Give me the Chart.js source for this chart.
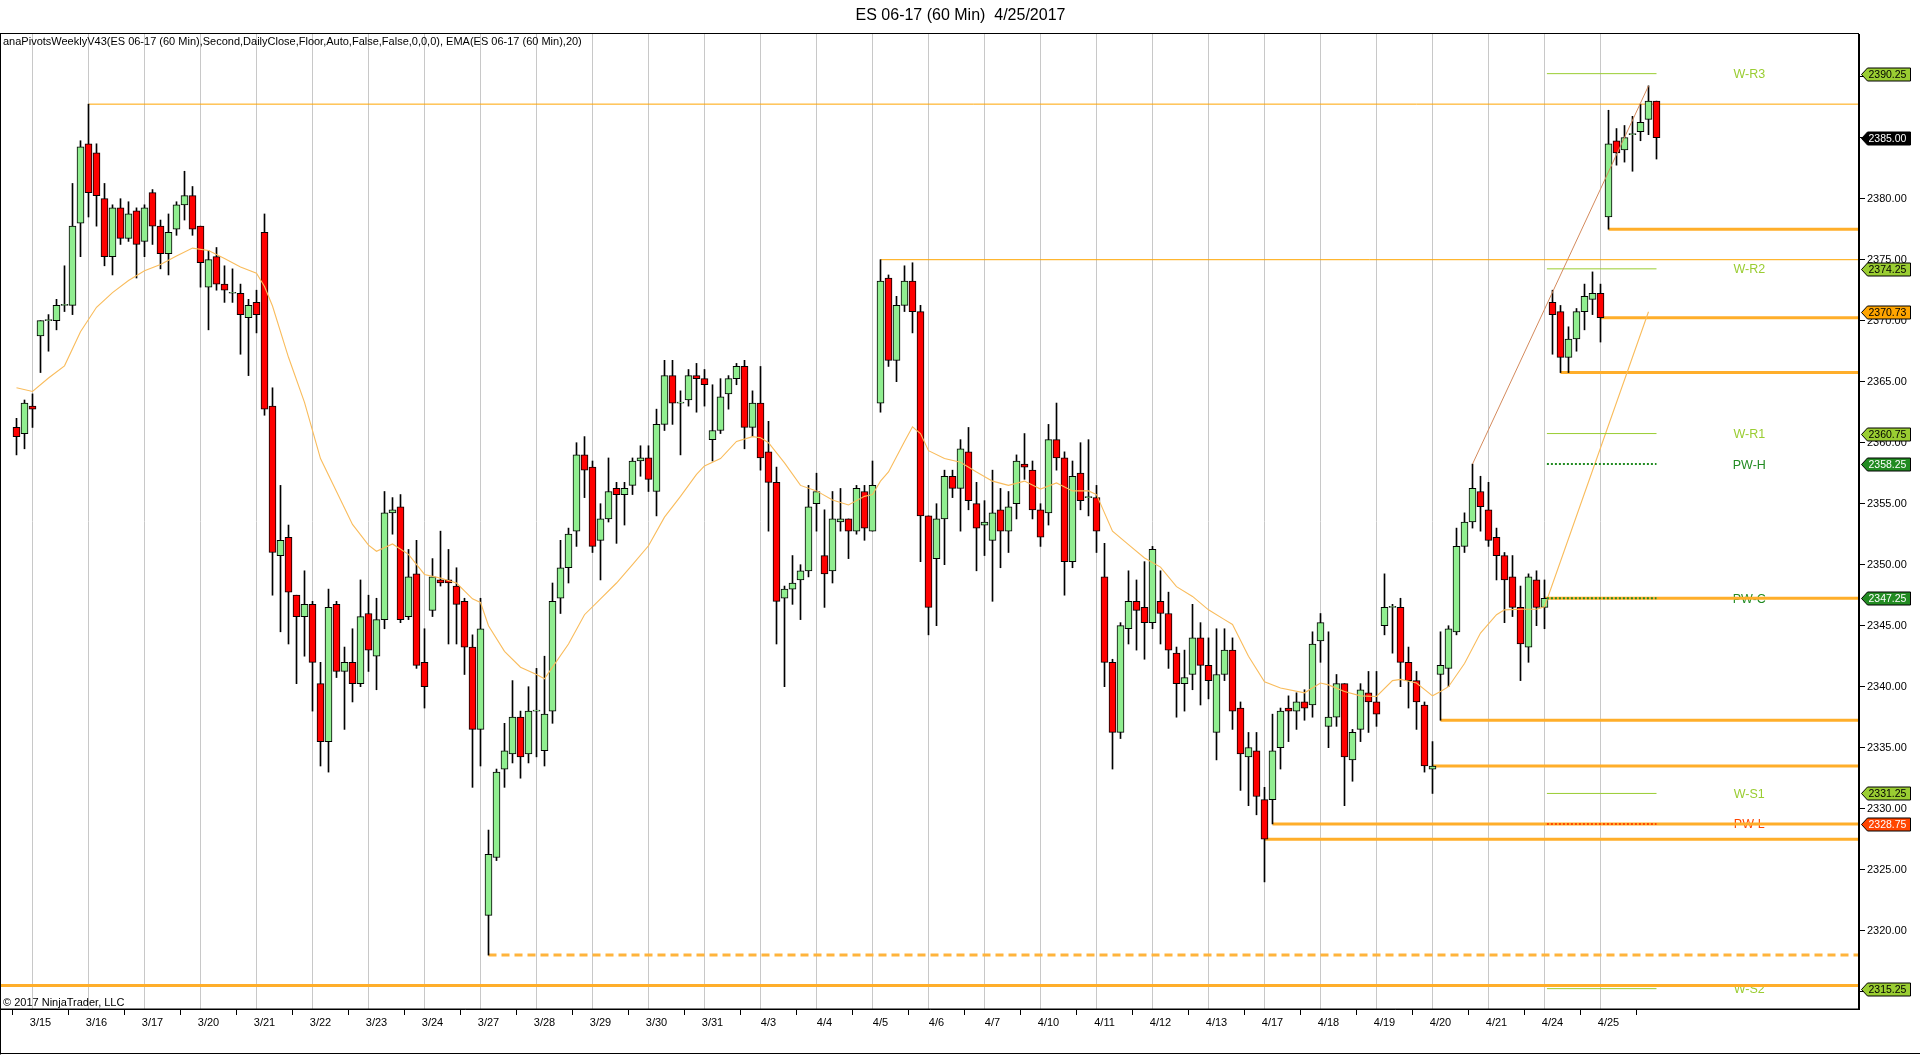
<!DOCTYPE html>
<html>
<head>
<meta charset="utf-8">
<script src="https://cdn.jsdelivr.net/npm/chart.js@4.4.1/dist/chart.umd.min.js"></script>
<style>
  html, body { margin: 0; padding: 0; background: #fff; overflow: hidden; }
  canvas { display: block; }
</style>
</head>
<body>
<canvas id="myChart" width="1920" height="1055"></canvas>
<script>
// session labels, one per trading day (first bar of the day = 3 + 7*d)
const dayLabels = ['3/15','3/16','3/17','3/20','3/21','3/22','3/23','3/24','3/27','3/28','3/29','3/30','3/31',
  '4/3','4/4','4/5','4/6','4/7','4/10','4/11','4/12','4/13','4/17','4/18','4/19','4/20','4/21','4/24','4/25'];

const yTicks = [2315, 2320, 2325, 2330, 2335, 2340, 2345, 2350, 2355, 2360, 2365, 2370, 2375, 2380, 2385, 2390];

// 60 min bars
const opens = [
  2361.25,2360.75,2363,2368.75,2370,2370,2371.25,2371.25,2378,2384.5,
  2383.75,2380,2375.25,2379.25,2376.75,2379,2376.5,2380.5,2377.75,2375.5,
  2377.5,2379.5,2380.25,2377.75,2372.75,2375.25,2373,2372.25,2372.25,2370.25,
  2371.5,2377.25,2363,2350.75,2352.25,2347.5,2345.75,2346.75,2340.25,2335.5,
  2346.75,2341.25,2342,2340.25,2346,2342.5,2345.5,2354.25,2354.75,2345.75,
  2349.25,2342,2346.25,2348.75,2348.75,2348.25,2347,2343.25,2336.5,2321.25,
  2326,2333.25,2334.5,2337.5,2334.5,2338,2334.75,2338,2347.25,2349.75,
  2352.75,2359,2358,2352,2353.75,2356.25,2355.75,2356.5,2358.5,2358.75,
  2356,2361.5,2365.5,2363.25,2363.5,2365.5,2365.25,2360.25,2361,2364,
  2365.25,2366.25,2361.25,2363.25,2359.25,2356.75,2347.25,2348,2348.75,2349.5,
  2355,2350.75,2349.5,2353.5,2353.75,2352.75,2356,2352.75,2363.25,2373.5,
  2366.75,2371.25,2373.25,2370.75,2354,2350.5,2353.75,2357.25,2356.25,2359.25,
  2355,2353.25,2352,2354.5,2352.75,2355,2358.25,2357.75,2354.5,2354.25,
  2360.25,2358.75,2350.25,2357.5,2355.5,2355.5,2349,2342,2336.25,2344.75,
  2347,2346.5,2345.25,2347,2346,2342.75,2340.25,2341,2344,2341.75,
  2336.25,2341,2343,2338.25,2334.25,2334.75,2330.75,2330.75,2335,2338.25,
  2338,2338.75,2338.5,2343.75,2336.75,2337.5,2340.25,2334,2336.5,2339.5,
  2338.75,2345,2346.5,2346.5,2342,2340.5,2338.5,2333.25,2341,2341.5,
  2344.5,2351.5,2353.5,2356,2354.5,2352.25,2350.75,2349,2346.5,2343.25,
  2348.75,2346.5,2371.5,2370.75,2367,2368.5,2370.75,2371.75,2372.25,2378.5,
  2384.75,2384,2385.25,2385.5,2386.5,2388
];
const highs = [
  2362,2363.5,2364,2370,2370.5,2371.75,2374.5,2381.25,2384.75,2387.75,
  2384.5,2381.25,2379.5,2380,2379.75,2379.25,2379.5,2380.75,2378.25,2378.75,
  2379.75,2382.25,2381,2377.75,2375.75,2376,2374.5,2374.25,2373,2371.75,
  2372.5,2378.75,2364.5,2356.5,2353.25,2347.5,2349.5,2347,2342,2348,
  2347,2343.25,2344.75,2348.75,2347.5,2347.25,2356,2355.5,2355.75,2351.25,
  2352,2344.75,2350.5,2352.75,2351.25,2349.75,2347.25,2344.25,2347.25,2328.25,
  2333.25,2337,2340.5,2338,2340,2341.5,2342.5,2348.5,2352,2353,
  2360,2360.5,2358.5,2355,2358.75,2356.75,2356.75,2358.75,2359.75,2359.75,
  2362.75,2366.75,2366.75,2364.25,2366,2366.5,2366,2364.75,2365.25,2365.5,
  2366.5,2366.75,2364.25,2366.25,2361.75,2358,2348.25,2350.75,2350,2356.5,
  2357.5,2354.5,2356,2356.25,2353.75,2356.5,2356.5,2358.5,2375,2373.75,
  2372,2374.5,2374.75,2371.25,2354,2355,2357.75,2357.75,2360.25,2361.25,
  2356.75,2355.25,2357.75,2356.25,2356,2359,2360.75,2358.5,2355,2361.5,
  2363.25,2359.25,2358.5,2360,2360.25,2356.5,2351.75,2342.25,2345.25,2349.5,
  2348.75,2350.25,2351.5,2349.5,2347.75,2343.25,2343,2346.75,2345.25,2344,
  2344.75,2344.75,2344,2338.75,2336.25,2336.25,2331.75,2337.75,2338.25,2339.25,
  2339.5,2339.75,2344.5,2346,2344.5,2341,2340.25,2336.5,2340.25,2341.25,
  2341.25,2349.25,2346.75,2347.25,2343.25,2341.25,2338.75,2335.5,2344.5,2345,
  2353,2354.25,2358.25,2357.25,2356.75,2353,2351,2350.75,2348.25,2349.25,
  2349.5,2348.75,2372.5,2371.25,2369.5,2371,2373,2374,2373,2387.25,
  2385.75,2386,2386.75,2387.75,2389.25,2388
];
const lows = [
  2359,2359.5,2361.25,2365.75,2367.5,2369.25,2370.75,2370.5,2375.25,2378.5,
  2377.75,2374.5,2373.75,2376.25,2376.5,2373.5,2375.25,2376.25,2374.25,2373.75,
  2377,2378.25,2377,2372.75,2369.25,2372.5,2371.5,2371.5,2367.25,2365.5,
  2369,2362.25,2347.5,2344.5,2343.5,2340.25,2342.5,2338,2333.5,2333,
  2340.75,2336.5,2338.75,2340,2341.25,2339.75,2344.75,2352.5,2345.25,2345.5,
  2341.5,2338.25,2345.75,2348.25,2343.5,2343.5,2341,2331.75,2333.5,2318,
  2325.75,2331.75,2333.75,2332.5,2333.75,2334.25,2333.5,2337,2346,2348.5,
  2351.5,2355.5,2351,2348.75,2353.5,2351.75,2353.25,2355.75,2357.25,2356,
  2354,2361,2361.5,2359,2363,2362.5,2363,2358.5,2360.75,2362.75,
  2364.75,2359.5,2360.5,2357.75,2352.75,2343.5,2340,2346.75,2345.5,2349,
  2352.75,2346.5,2348.5,2352.75,2350.5,2352.5,2352,2352.75,2362.5,2366.25,
  2365,2370.75,2369,2350.25,2344.25,2345,2350,2355.5,2352.75,2354.5,
  2349.5,2350.75,2347,2349.75,2351,2353.75,2357,2353.75,2351.5,2353.25,
  2357.75,2347.5,2349.75,2354.5,2354,2351,2340,2333.25,2335.75,2343.5,
  2343,2342.25,2344.75,2343.5,2341.5,2337.5,2338,2339.75,2338.5,2339,
  2334,2340.5,2336.5,2331.5,2330.25,2329.5,2324,2328.75,2333.25,2335.5,
  2336.5,2337.25,2337.5,2342,2335,2336.75,2330.25,2332.25,2335.5,2336.25,
  2336.75,2344.25,2342.75,2340,2338.25,2336.5,2333,2331.25,2337.25,2340,
  2344.25,2351,2353,2352.75,2351.5,2348.75,2345.25,2345.75,2340.5,2342,
  2345,2344.75,2367.25,2365.75,2365.75,2367.5,2369.25,2370.5,2368.25,2377.5,
  2382.75,2383,2382.25,2384.75,2385.25,2383.25
];
const closes = [
  2360.5,2363.25,2362.75,2370,2370,2371.25,2371.25,2377.75,2384.25,2380.5,
  2380.25,2375.25,2379.25,2376.75,2378.75,2376.25,2379.25,2377.75,2375.5,2377.25,
  2379.5,2380.25,2377.5,2374.75,2375,2373,2372.5,2372.25,2370.5,2371.25,
  2370.5,2362.75,2351,2352,2347.75,2345.75,2346.75,2342,2335.5,2346.5,
  2341.25,2342,2340.25,2345.75,2343,2345.5,2354.25,2354.5,2345.5,2349,
  2341.75,2340,2349,2348.5,2348.5,2346.75,2343.25,2336.5,2344.75,2326.25,
  2333,2334.75,2337.5,2334.25,2338,2338,2337.75,2347,2349.75,2352.5,
  2359,2357.75,2351.5,2353.75,2356,2355.75,2356.25,2358.5,2358.75,2357,
  2361.5,2365.5,2363.25,2363.25,2365.5,2365.25,2364.75,2361,2363.75,2365.25,
  2366.25,2361.25,2363.25,2358.75,2356.75,2347,2348,2348.5,2349.5,2354.75,
  2356,2349.25,2353.75,2353.75,2352.75,2356.25,2353,2356.5,2373.25,2366.75,
  2371.25,2373.25,2370.75,2354,2346.5,2353.75,2357.25,2356.25,2359.5,2355.25,
  2353,2353.5,2354.25,2352.75,2354.75,2358.5,2358,2354.5,2352.25,2360.25,
  2358.75,2350.25,2357.25,2355.25,2355.5,2352.75,2342,2336.25,2345,2347,
  2346.25,2345.25,2351.25,2346,2343,2340.25,2340.75,2344,2341.75,2340.5,
  2341,2343,2338,2334.5,2335,2331,2327.5,2334.75,2338,2338,
  2338.75,2338.25,2343.5,2345.25,2337.5,2340.25,2334.25,2336.25,2339.75,2338.75,
  2337.75,2346.5,2346.5,2342,2340.5,2338.75,2333.5,2333.5,2341.75,2344.75,
  2351.5,2353.5,2356.25,2354.75,2352,2350.75,2348.75,2346.5,2343.5,2349,
  2346.5,2347.25,2370.5,2367,2368.5,2370.75,2372,2372.25,2370.25,2384.5,
  2383.75,2385,2385.25,2386.25,2388,2385
];

// EMA(20) as drawn in the picture (bar index / value)
const emaBars = [0,2,4,6,8,10,12,14,16,18,20,22,24,26,28,30,31,32,34,36,38,40,42,44,45,47,49,
  51,53,55,57,58,59,61,63,65,66,67,69,71,73,75,77,79,81,83,85,86,88,90,92,93,94,96,98,100,
  102,104,106,107,108,109,111,112,113,114,116,118,120,122,124,126,128,130,132,134,135,137,139,
  141,143,145,147,149,151,152,154,156,158,161,163,164,166,168,170,172,173,175,177,178,179,181,
  183,185,186,188,190,191,204];
const emaValues = [2364.5,2364.2,2365.3,2366.3,2369.1,2371.1,2372.3,2373.3,2374.1,2374.6,2375.3,2375.95,
  2375.75,2375.1,2374.4,2373.9,2372.8,2371.2,2367,2363.3,2358.7,2356,2353.3,2351.6,2351.1,2351.7,2350.85,
  2349.2,2348.9,2348.5,2347.2,2346.9,2345,2342.9,2341.6,2341,2340.65,2341.6,2343.5,2345.9,2347.2,2348.5,
  2350,2351.55,2353.9,2355.6,2357.4,2358.1,2358.7,2360.1,2360.5,2360.4,2360,2358.35,2356.5,2356.05,
  2355.3,2354.9,2355.6,2355.75,2356.85,2357.6,2360.1,2361.3,2360.75,2359.35,2358.7,2358.4,2357.6,2356.85,
  2356.5,2356.85,2356.2,2356.7,2356.05,2356.05,2355.75,2352.75,2351.65,2350.55,2349.8,2348.2,2347.4,
  2346.3,2345.5,2345.1,2342.5,2340.4,2339.9,2339.5,2340.3,2340.15,2339.6,2339.25,2339.2,2340.5,2340.6,
  2340.3,2339.25,2339.6,2340,2341.9,2344.4,2345.9,2346.3,2346.35,2346.35,2346.55,2370.73];

// horizontal levels (price / first bar)
const thickLevels = [2377.5, 2370.25, 2365.75, 2347.25, 2337.25, 2333.5, 2328.75, 2327.5, 2315.5];
const thickStarts = [199, 198, 193, 191, 178, 177, 157, 156, -2];
const thinLevels = [2387.75, 2375];
const thinStarts = [9, 108];
const dashedLevels = [2318];
const dashedStarts = [59];

// weekly pivots
const pivotNames = ['W-R3', 'W-R2', 'W-R1', 'PW-H', 'PW-C', 'W-S1', 'PW-L', 'W-S2'];
const pivotValues = [2390.25, 2374.25, 2360.75, 2358.25, 2347.25, 2331.25, 2328.75, 2315.25];
const pivotRange = [191.3, 205];
const pivotLabelBar = 216.6;

// trend line between two highs
const trendBars = [182, 204];
const trendValues = [2358.25, 2389.25];

// price markers on the right axis
const tagValues = [2390.25, 2385.00, 2374.25, 2370.73, 2360.75, 2358.25, 2347.25, 2331.25, 2328.75, 2315.25];

const X_MIN = -1.9375, X_MAX = 230.3125;
const Y_MIN = 2313.582, Y_MAX = 2393.5;
const FONT = '"Liberation Sans", Arial, sans-serif';

const pivotColor = n => n === 'PW-H' || n === 'PW-C' ? '#228B22' : (n === 'PW-L' ? '#FF4500' : '#9ACD32');
const tagStyle = {
  2390.25: ['#9ACD32', '#000'], 2385: ['#000', '#fff'], 2374.25: ['#9ACD32', '#000'],
  2370.73: ['#FFA500', '#000'], 2360.75: ['#9ACD32', '#000'], 2358.25: ['#228B22', '#fff'],
  2347.25: ['#228B22', '#fff'], 2331.25: ['#9ACD32', '#000'], 2328.75: ['#FF4500', '#fff'],
  2315.25: ['#9ACD32', '#000']
};

const datasets = [];

thickLevels.forEach((v, k) => datasets.push({
  type: 'line', data: [{x: thickStarts[k], y: v}, {x: X_MAX, y: v}],
  borderColor: '#FFAE2A', borderWidth: 3, pointRadius: 0, order: 10
}));
thinLevels.forEach((v, k) => datasets.push({
  type: 'line', data: [{x: thinStarts[k], y: v}, {x: X_MAX, y: v}],
  borderColor: '#FFA500', borderWidth: 1, pointRadius: 0, order: 10
}));
dashedLevels.forEach((v, k) => datasets.push({
  type: 'line', data: [{x: dashedStarts[k], y: v}, {x: X_MAX, y: v}],
  borderColor: '#FFB43C', borderWidth: 3, borderDash: [8, 5], pointRadius: 0, order: 10
}));

datasets.push({
  type: 'bar', data: lows.map((l, i) => ({x: i, y: [l, highs[i]]})),
  backgroundColor: '#000', barThickness: 1, grouped: false, order: 8
});
datasets.push({
  type: 'bar', data: opens.map((o, i) => ({x: i, y: [o, closes[i]]})),
  backgroundColor: opens.map((o, i) => closes[i] >= o ? '#90EE90' : '#FF0000'),
  borderColor: '#000', borderWidth: 1, borderSkipped: false,
  barThickness: 7, minBarLength: 1, grouped: false, order: 7
});

datasets.push({
  type: 'line', data: emaBars.map((b, k) => ({x: b, y: emaValues[k]})),
  borderColor: '#F9BC5C', borderWidth: 1.1, pointRadius: 0, tension: 0, order: 5
});

pivotNames.forEach((n, k) => {
  const dotted = n.startsWith('PW');
  datasets.push({
    type: 'line', data: [{x: pivotRange[0], y: pivotValues[k]}, {x: pivotRange[1], y: pivotValues[k]}],
    borderColor: pivotColor(n), borderWidth: dotted ? 2 : 1,
    borderDash: dotted ? [2, 2] : [], pointRadius: 0, order: 4
  });
});

datasets.push({
  type: 'line', data: trendBars.map((b, k) => ({x: b, y: trendValues[k]})),
  borderColor: '#D48A5C', borderWidth: 1, pointRadius: 0, order: 3
});

const textPlugin = {
  id: 'ntText',
  beforeDatasetsDraw(chart) {
    const {ctx, scales: {x, y}} = chart;
    ctx.save();
    ctx.font = '12.5px ' + FONT;
    ctx.textAlign = 'center';
    ctx.textBaseline = 'middle';
    pivotNames.forEach((n, k) => {
      ctx.fillStyle = pivotColor(n);
      ctx.fillText(n, x.getPixelForValue(pivotLabelBar), y.getPixelForValue(pivotValues[k]) + 1);
    });
    ctx.restore();
  },
  afterDraw(chart) {
    const {ctx, chartArea: a, scales: {y}} = chart;
    ctx.save();
    ctx.strokeStyle = '#000';
    ctx.lineWidth = 1;
    ctx.strokeRect(a.left - 0.5, a.top - 0.5, a.right - a.left, a.bottom - a.top + 0.5);
    ctx.beginPath();
    ctx.moveTo(0.5, a.top); ctx.lineTo(0.5, 1054.5);
    ctx.moveTo(0, 1053.5); ctx.lineTo(1920, 1053.5);
    ctx.stroke();

    ctx.fillStyle = '#000';
    ctx.font = '11px ' + FONT;
    ctx.textAlign = 'left';
    ctx.textBaseline = 'middle';
    ctx.fillText('anaPivotsWeeklyV43(ES 06-17 (60 Min),Second,DailyClose,Floor,Auto,False,False,0,0,0), EMA(ES 06-17 (60 Min),20)', 3, 42);
    ctx.fillText('\u00A9 2017 NinjaTrader, LLC', 3, 1003);

    const left = a.right + 2.5;
    ctx.font = '10.5px ' + FONT;
    tagValues.forEach(v => {
      const py = Math.round(y.getPixelForValue(v)) + 0.5;
      const st = tagStyle[v];
      ctx.beginPath();
      ctx.moveTo(left, py);
      ctx.lineTo(left + 6, py - 6.5);
      ctx.lineTo(left + 49, py - 6.5);
      ctx.lineTo(left + 49, py + 6.5);
      ctx.lineTo(left + 6, py + 6.5);
      ctx.closePath();
      ctx.fillStyle = st[0];
      ctx.fill();
      ctx.strokeStyle = '#000';
      ctx.stroke();
      ctx.fillStyle = st[1];
      ctx.fillText(v.toFixed(2), left + 7, py + 0.5);
    });
    ctx.restore();
  }
};

const config = {
  type: 'line',
  data: {datasets: datasets},
  options: {
    responsive: false,
    animation: false,
    devicePixelRatio: 1,
    events: [],
    layout: {padding: {left: 1, top: 0, right: 0, bottom: 0}},
    scales: {
      x: {
        type: 'linear', position: 'bottom', min: X_MIN, max: X_MAX, offset: false,
        afterBuildTicks: s => { s.ticks = dayLabels.map((_, d) => ({value: 3 + 7 * d})); },
        afterFit: s => { s.height = 46; },
        ticks: {
          autoSkip: false, maxRotation: 0, padding: 1, color: '#000',
          font: {size: 11, family: FONT},
          callback: v => dayLabels[(v - 3) / 7]
        },
        grid: {drawOnChartArea: false, drawTicks: true, tickLength: 6, color: '#000'},
        border: {display: true, color: '#000'}
      },
      xg: {
        type: 'linear', position: 'top', min: X_MIN, max: X_MAX, offset: false,
        afterBuildTicks: s => { s.ticks = dayLabels.map((_, d) => ({value: 2 + 7 * d})); },
        afterFit: s => { s.height = 0; },
        ticks: {display: false},
        grid: {drawTicks: false, color: '#C8C8C8', lineWidth: 1},
        border: {display: false}
      },
      y: {
        type: 'linear', position: 'right', min: Y_MIN, max: Y_MAX,
        afterBuildTicks: s => { s.ticks = yTicks.map(v => ({value: v})); },
        afterFit: s => { s.width = 61; },
        ticks: {
          padding: 2, color: '#000', font: {size: 11, family: FONT},
          callback: v => v.toFixed(2)
        },
        grid: {drawOnChartArea: false, drawTicks: true, tickLength: 6, color: '#000'},
        border: {display: true, color: '#000'}
      }
    },
    plugins: {
      legend: {display: false},
      tooltip: {enabled: false},
      title: {
        display: true,
        text: 'ES 06-17 (60 Min)  4/25/2017',
        color: '#000',
        font: {size: 16, family: FONT, weight: 'normal'},
        padding: {top: 6, bottom: 8.8}
      }
    }
  },
  plugins: [textPlugin]
};

let myChart = new Chart(document.getElementById('myChart'), config);
</script>
</body>
</html>
